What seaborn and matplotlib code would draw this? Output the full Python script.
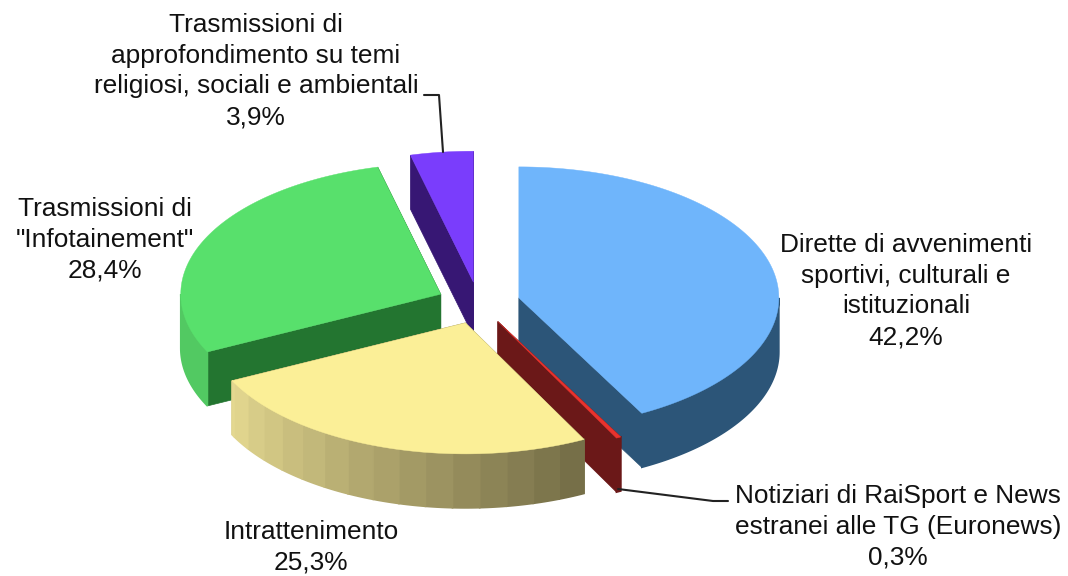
import numpy as np
import matplotlib
matplotlib.use("Agg")
import matplotlib.pyplot as plt
import seaborn as sns

labels = [
    "Dirette di avvenimenti\nsportivi, culturali e\nistituzionali\n42,2%",
    "Notiziari di RaiSport e News\nestranei alle TG (Euronews)\n0,3%",
    "Intrattenimento\n25,3%",
    "Trasmissioni di\n\"Infotainement\"\n28,4%",
    "Trasmissioni di\napprofondimento su temi\nreligiosi, sociali e ambientali\n3,9%",
]
shares = [42.2, 0.3, 25.3, 28.4, 3.9]

top_colors = ["#6fb5fb", "#e8332e", "#fbef97", "#58e06c", "#7a3dfc"]
cut_colors = ["#2c5578", "#6b1818", "#8a8050", "#237530", "#371774"]
side_left = ["#2c5578", "#6b1818", "#e4d890", "#52c962", "#371774"]
side_right = ["#2c5578", "#6b1818", "#726b45", "#52c962", "#371774"]

label_x = [906, 898, 311, 105, 256]
label_y = [291, 527, 547, 240, 71]

# pie geometry in pixels
cx, cy = 478.5, 303
rx, ry = 260, 131
depth = 54
explode = 0.16
draw_order = [4, 3, 0, 1, 2]

sns.set_theme(style="white")
plt.rcParams["font.family"] = ["Liberation Sans", "DejaVu Sans"]

fig = plt.figure(figsize=(10.68, 5.76), dpi=100)
ax = fig.add_axes([0, 0, 1, 1])
ax.set_xlim(0, 1068)
ax.set_ylim(576, 0)
ax.axis("off")

fractions = np.array(shares) / sum(shares)
ends = 90 - 360 * np.cumsum(fractions)
starts = np.r_[90, ends[:-1]]


def rim(ox, oy, a, b):
    t = np.radians(np.linspace(a, b, max(2, int(abs(a - b)) + 2)))
    return ox + rx * np.cos(t), oy - ry * np.sin(t)


for i in draw_order:
    a, b = starts[i], ends[i]
    mid = np.radians((a + b) / 2)
    ox = cx + explode * rx * np.cos(mid)
    oy = cy - explode * ry * np.sin(mid)

    # cut faces, the ones at the back get covered by the top
    for ang in (a, b):
        ex, ey = rim(ox, oy, ang, ang)
        ax.fill([ox, ex[0], ex[0], ox],
                [oy, ey[0], ey[0] + depth, oy + depth],
                color=cut_colors[i], lw=0.5)

    # outer wall, strips only where the shading changes
    lo, hi = max(b, -180), min(a, 0)
    if hi > lo:
        if side_left[i] == side_right[i]:
            edges = np.array([hi, lo])
        else:
            edges = np.arange(hi, lo - 6, -6.0)
            edges[-1] = lo
        ramp = sns.blend_palette([side_left[i], side_right[i]], 101)
        for s, e in zip(edges[:-1], edges[1:]):
            x1, y1 = rim(ox, oy, s, e)
            pos = (-(s + e) / 2 - 63) / 91
            col = ramp[int(np.clip(1 - pos, 0, 1) * 100)]
            ax.fill(np.r_[x1, x1[::-1]], np.r_[y1, y1[::-1] + depth],
                    color=col, lw=1.2)

    # top surface
    x1, y1 = rim(ox, oy, a, b)
    ax.fill(np.r_[ox, x1], np.r_[oy, y1], color=top_colors[i], lw=0.3)

# leader lines
ax.plot([443, 439, 424], [152, 95, 95], color="#222222", lw=1.5)
ax.plot([618, 713, 728], [489, 501, 501], color="#222222", lw=1.5)

for text, x, y in zip(labels, label_x, label_y):
    ax.text(x, y, text, ha="center", va="center", fontsize=18.9,
            color="#111111", linespacing=1.36)

fig.savefig("out.png", dpi=100)
